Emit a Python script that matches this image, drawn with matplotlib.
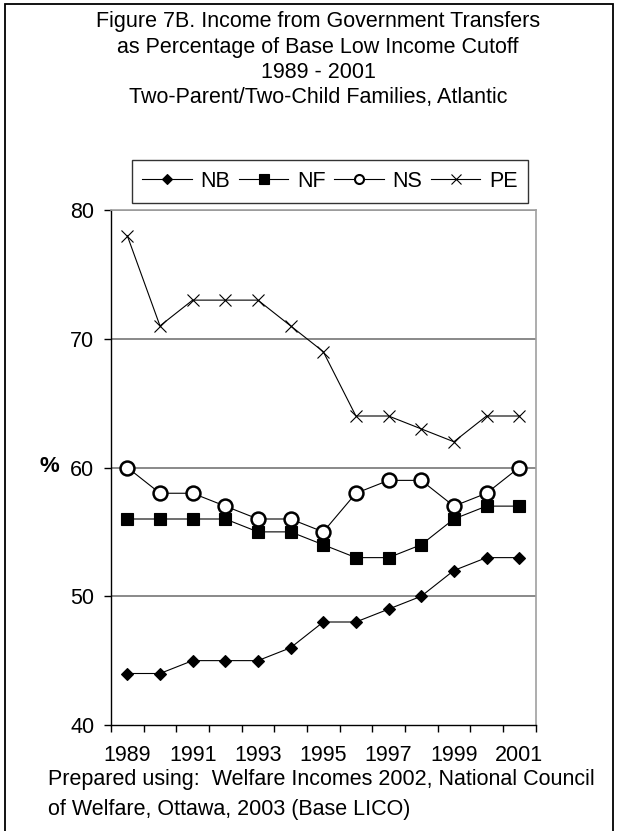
import matplotlib
matplotlib.use("Agg")
import matplotlib.pyplot as plt
from matplotlib.lines import Line2D
from matplotlib.patches import Rectangle

plt.rcParams['font.family'] = ['Liberation Sans', 'DejaVu Sans']

years = [1989, 1990, 1991, 1992, 1993, 1994, 1995, 1996, 1997, 1998, 1999, 2000, 2001]
nb = [44, 44, 45, 45, 45, 46, 48, 48, 49, 50, 52, 53, 53]
nf = [56, 56, 56, 56, 55, 55, 54, 53, 53, 54, 56, 57, 57]
ns = [60, 58, 58, 57, 56, 56, 55, 58, 59, 59, 57, 58, 60]
pe = [78, 71, 73, 73, 73, 71, 69, 64, 64, 63, 62, 64, 64]
series_names = ["NB", "NF", "NS", "PE"]
y_ticks = [40, 50, 60, 70, 80]

title_lines = [
    "Figure 7B. Income from Government Transfers",
    "as Percentage of Base Low Income Cutoff",
    "1989 - 2001",
    "Two-Parent/Two-Child Families, Atlantic",
]
source_lines = [
    "Prepared using:  Welfare Incomes 2002, National Council",
    "of Welfare, Ottawa, 2003 (Base LICO)",
]

W, H = 618, 831
FS = 15.5
fig = plt.figure(figsize=(W / 100, H / 100), dpi=100)

def fx(px):
    return px / W

def fy(py):
    return 1 - py / H

ax = fig.add_axes([fx(111), fy(725), fx(535.5) - fx(111), fy(210) - fy(725)])
x = list(range(len(years)))

styles = {
    "NB": dict(marker="D", ms=5.9, mfc="black", mec="black", mew=0.8),
    "NF": dict(marker="s", ms=9.0, mfc="black", mec="black", mew=0.8),
    "NS": dict(marker="o", ms=10.0, mfc="white", mec="black", mew=1.8),
    "PE": dict(marker="x", ms=8.5, mfc="none", mec="black", mew=0.8),
}
for name, vals in zip(series_names, [nb, nf, ns, pe]):
    ax.plot(x, vals, color="black", lw=0.8, zorder=3, clip_on=False, **styles[name])

ax.set_xlim(-0.5, len(years) - 0.5)
ax.set_ylim(y_ticks[0], y_ticks[-1])

# horizontal gridlines
for v in y_ticks[1:]:
    ax.axhline(v, color="#808080", lw=1.3, zorder=1)

for side in ["top", "right"]:
    ax.spines[side].set_color("#a0a0a0")
    ax.spines[side].set_linewidth(1.2)
for side in ["left", "bottom"]:
    ax.spines[side].set_color("black")
    ax.spines[side].set_linewidth(1.0)

ax.set_yticks(y_ticks)
ax.set_yticklabels([str(v) for v in y_ticks])
ax.tick_params(axis="y", direction="out", length=5, width=1, pad=7, labelsize=FS)

# x ticks at category boundaries, labels at every other category centre
ax.set_xticks([i - 0.5 for i in range(len(years) + 1)])
ax.set_xticklabels([])
ax.tick_params(axis="x", which="major", direction="out", length=5, width=1)
ax.set_xticks(x[::2], minor=True)
ax.set_xticklabels([str(y) for y in years[::2]], minor=True)
ax.tick_params(axis="x", which="minor", length=0, pad=14.5, labelsize=FS)

fig.text(fx(40), fy(467), "%", fontsize=FS + 0.5, fontweight="bold", ha="left", va="center")

for i, line in enumerate(title_lines):
    fig.text(fx(318), fy(22 + 25.3 * i), line, fontsize=FS, ha="center", va="center")

for i, line in enumerate(source_lines):
    fig.text(fx(48), fy(780 + 30 * i), line, fontsize=FS, ha="left", va="center")

handles = []
leg_sizes = {"NB": 5.5, "NF": 7.5, "NS": 6.5, "PE": 6.5}
for name in series_names:
    st = dict(styles[name])
    st["ms"] = leg_sizes[name]
    if name == "NS":
        st["mew"] = 1.5
    handles.append(Line2D([0], [0], color="black", lw=0.8, **st))
leg = fig.legend(handles, series_names, loc="center", ncol=4,
                 bbox_to_anchor=(fx(330), fy(181.5)), fontsize=FS,
                 frameon=True, fancybox=False, edgecolor="black",
                 handlelength=2.3, handletextpad=0.4, columnspacing=0.4,
                 borderpad=0.5, borderaxespad=0)
leg.get_frame().set_linewidth(1.0)

# outer frame around the whole chart
fig.patches.append(Rectangle((fx(5), fy(840)), fx(613) - fx(5), fy(4) - fy(840),
                             transform=fig.transFigure, fill=False,
                             edgecolor="black", lw=1.3))

fig.savefig("out.png", dpi=100, facecolor="white")
